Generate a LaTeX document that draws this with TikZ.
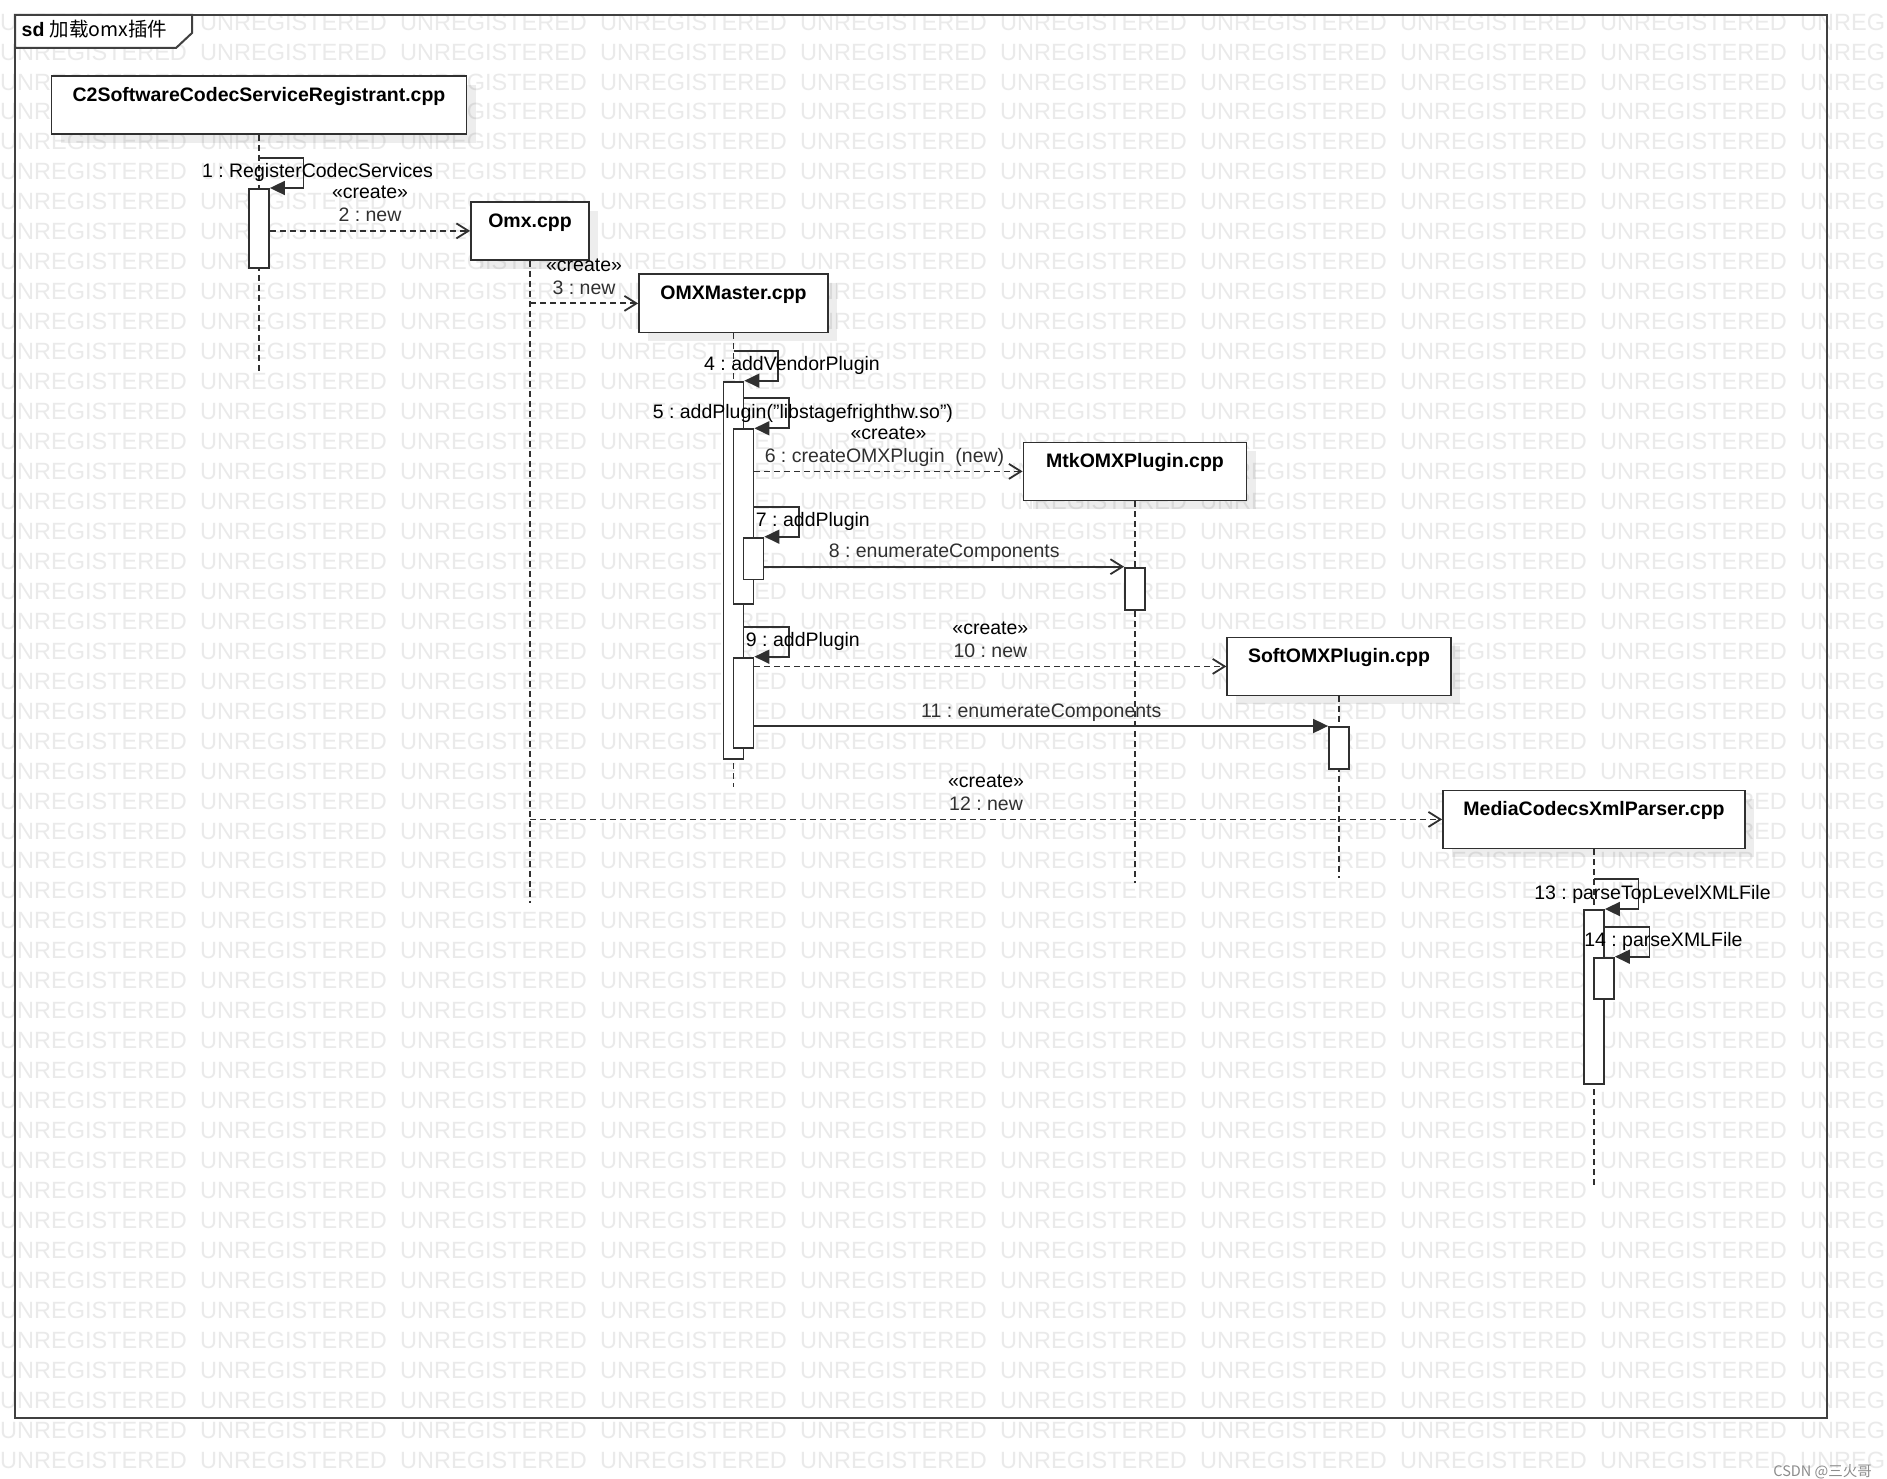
\documentclass[tikz,border=0pt]{standalone}
\usepackage{fontspec}
\setmainfont{Liberation Sans}
\newfontfamily\cjkfont{Noto Sans CJK SC}
\usepackage{tikz}
\usetikzlibrary{positioning,arrows.meta,calc,shadows}
\usepackage{xcolor}
\definecolor{linegray}{HTML}{303030}
\definecolor{framegray}{HTML}{404040}
\definecolor{markgray}{HTML}{EAEAEA}
\frenchspacing

\begin{document}
\begin{tikzpicture}[x=1pt, y=-1pt,
    msgtext/.style={font=\fontsize{19.5pt}{23pt}\selectfont, inner sep=0pt, anchor=base},
    onmsg/.style={msgtext, yshift=9pt},
    actor/.style={draw=linegray, line width=1.8pt, fill=white, anchor=north,
        font=\bfseries\fontsize{19.5pt}{23pt}\selectfont, inner ysep=0pt,
        text height=25.5pt, text depth=32.5pt,
        drop shadow={shadow xshift=9pt, shadow yshift=-9pt, fill=black, opacity=0.07}},
    activation/.style={draw=linegray, line width=1.8pt, fill=white, anchor=north,
        minimum width=20pt, inner sep=0pt},
    lifeline/.style={linegray, line width=1.5pt, dash pattern=on 6pt off 4pt},
    call/.style={linegray, line width=1.8pt, -{Triangle[length=15pt, width=14pt]}},
    send/.style={linegray, line width=1.8pt, -{Straight Barb[length=12pt, width=15pt]}},
    create/.style={send, dash pattern=on 6pt off 4pt},
    watermark/.style={text=markgray, font=\fontsize{23.5pt}{26pt}\selectfont,
        inner sep=0pt, anchor=base west}]

    \useasboundingbox[fill=white] (0,0) rectangle (1887,1479);

    % =========================================================================
    % BACKGROUND: tool watermark
    % =========================================================================
    \foreach \row in {0,...,48} {
        \foreach \col in {0,...,9} {
            \node[watermark] (wm-\row-\col) at ({200*\col}, {30.1+29.96*\row}) {UNREGISTERED};
        }
    }
    \node[anchor=base east, inner sep=0pt, text=black!45,
          font=\cjkfont\fontsize{14.5pt}{16pt}\selectfont] (csdn) at (1872,1476) {CSDN @三火哥};

    % =========================================================================
    % FRAME: sd 加载omx插件
    % =========================================================================
    \draw[framegray, line width=2pt] (15,15) rectangle (1827,1418);
    \draw[framegray, line width=2pt, fill=white] (15,15) -- (192,15) -- (192,33) -- (176,48) -- (15,48) -- cycle;
    \node[anchor=base west, inner sep=0pt, font=\fontsize{19.5pt}{22pt}\selectfont] (title) at (21.5,36.7)
        {\bfseries sd\ \mdseries{\cjkfont 加载omx插件}};

    % =========================================================================
    % LIFELINES
    % =========================================================================
    \node[actor, minimum width=415pt] (c2) at (259,75) {C2SoftwareCodecServiceRegistrant.cpp};
    \node[actor, minimum width=118pt] (omx) at (530,201) {Omx.cpp};
    \node[actor, minimum width=189pt] (master) at (733.5,273.5) {OMXMaster.cpp};
    \node[actor, minimum width=223pt] (mtk) at (1135,441.5) {MtkOMXPlugin.cpp};
    \node[actor, minimum width=223.5pt] (soft) at (1339,636.5) {SoftOMXPlugin.cpp};
    \node[actor, minimum width=302pt] (media) at (1594,789.5) {MediaCodecsXmlParser.cpp};

    \coordinate (c2end) at (259,373);
    \coordinate (omxend) at (530,902.7);
    \coordinate (masterend) at (733.5,787.3);
    \coordinate (mtkend) at (1135,883.3);
    \coordinate (softend) at (1339,878.3);
    \coordinate (mediaend) at (1594,1185);

    \draw[lifeline] (c2.south) -- (c2end);
    \draw[lifeline] (omx.south) -- (omxend);
    \draw[lifeline] (master.south) -- (masterend);
    \draw[lifeline] (mtk.south) -- (mtkend);
    \draw[lifeline] (soft.south) -- (softend);
    \draw[lifeline] (media.south) -- (mediaend);

    % Activations
    \node[activation, minimum height=79pt] (c2act) at (259,188) {};
    \node[activation, minimum height=377.6pt] (a1) at (733.5,380.7) {};
    \node[activation, minimum height=174.4pt] (a2) at (743.5,428.3) {};
    \node[activation, minimum height=41.8pt] (a3) at (753.5,536.7) {};
    \node[activation, minimum height=90pt] (a4) at (743.5,656.7) {};
    \node[activation, minimum height=42.3pt] (mtkact) at (1135,566.7) {};
    \node[activation, minimum height=41.7pt] (softact) at (1339,726) {};
    \node[activation, minimum height=173.7pt] (m1act) at (1594,909) {};
    \node[activation, minimum height=41.6pt] (m2act) at (1604,956.7) {};

    % =========================================================================
    % MESSAGES
    % =========================================================================
    % 1: self call
    \draw[call] ($(c2.south |- c2act.north)+(0,-30)$) -- ++(44.5,0) |- (c2act.north east);
    \node[msgtext] (l1) at ($(c2.south |- c2act.north)+(58.5,-10)$) {1 : RegisterCodecServices};

    % 2: create Omx
    \draw[create] (c2act.east |- omx.west) -- node[onmsg] (l2) {2 : new} (omx.west);
    \node[msgtext] (s2) at ($(l2.base)+(0,-23)$) {«create»};

    % 3: create OMXMaster
    \draw[create] (omx.south |- master.west) -- node[onmsg] (l3) {3 : new} (master.west);
    \node[msgtext] (s3) at ($(l3.base)+(0,-23)$) {«create»};

    % 4, 5: self calls on OMXMaster
    \draw[call] ($(master.south |- a1.north)+(0,-30)$) -- ++(44.5,0) |- (a1.north east);
    \node[msgtext] (l4) at ($(master.south |- a1.north)+(58.5,-10)$) {4 : addVendorPlugin};
    \draw[call] ($(a1.east |- a2.north)+(0,-30)$) -- ++(44.5,0) |- (a2.north east);
    \node[msgtext] (l5) at ($(a1.east |- a2.north)+(58.5,-10)$) {5 : addPlugin("libstagefrighthw.so")};

    % 6: create MtkOMXPlugin
    \draw[create] (a2.east |- mtk.west) -- node[onmsg, xshift=-4pt] (l6) {6 : createOMXPlugin\ \ (new)} (mtk.west);
    \node[msgtext] (s6) at ($(l6.base)+(4,-23)$) {«create»};

    % 7, 8
    \draw[call] ($(a2.east |- a3.north)+(0,-30)$) -- ++(44.5,0) |- (a3.north east);
    \node[msgtext] (l7) at ($(a2.east |- a3.north)+(58.5,-10)$) {7 : addPlugin};
    \draw[send] (a3.east |- mtkact.north) -- node[onmsg] (l8) {8 : enumerateComponents} (mtkact.north west);

    % 9, 10, 11
    \draw[call] ($(a1.east |- a4.north)+(0,-30)$) -- ++(44.5,0) |- (a4.north east);
    \node[msgtext] (l9) at ($(a1.east |- a4.north)+(58.5,-10)$) {9 : addPlugin};
    \draw[create] (a4.east |- soft.west) -- node[onmsg] (l10) {10 : new} (soft.west);
    \node[msgtext] (s10) at ($(l10.base)+(0,-23)$) {«create»};
    \draw[call] (a4.east |- softact.north) -- node[onmsg] (l11) {11 : enumerateComponents} (softact.north west);

    % 12: create MediaCodecsXmlParser
    \draw[create] (omx.south |- media.west) -- node[onmsg] (l12) {12 : new} (media.west);
    \node[msgtext] (s12) at ($(l12.base)+(0,-23)$) {«create»};

    % 13, 14: self calls on parser
    \draw[call] ($(media.south |- m1act.north)+(0,-30)$) -- ++(44.5,0) |- (m1act.north east);
    \node[msgtext] (l13) at ($(media.south |- m1act.north)+(58.5,-10)$) {13 : parseTopLevelXMLFile};
    \draw[call] ($(m1act.east |- m2act.north)+(0,-30)$) -- ++(44.5,0) |- (m2act.north east);
    \node[msgtext] (l14) at ($(m1act.east |- m2act.north)+(58.5,-10)$) {14 : parseXMLFile};

\end{tikzpicture}
\end{document}
